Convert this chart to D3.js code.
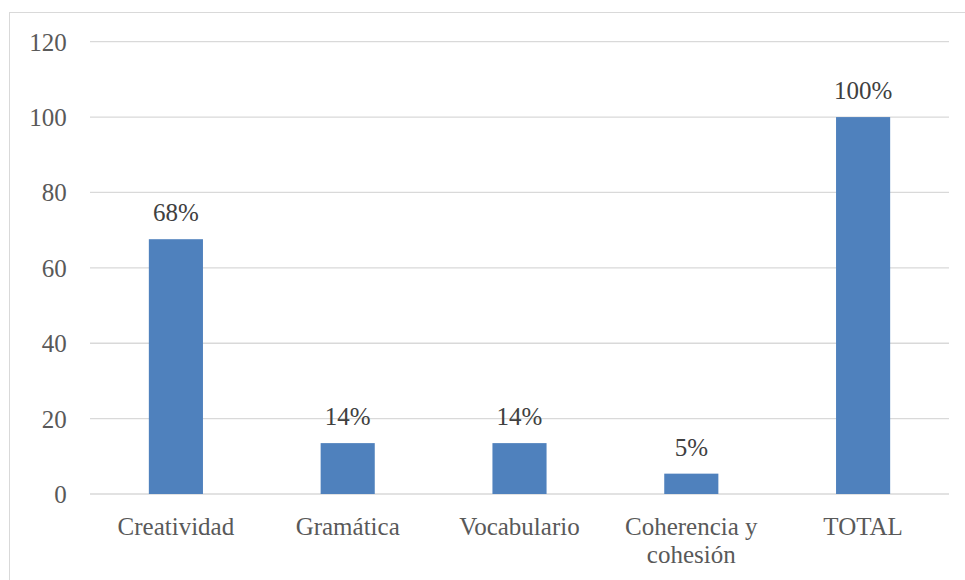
<!DOCTYPE html>
<html>
<head>
<meta charset="utf-8">
<script src="https://cdn.jsdelivr.net/npm/d3@7"></script>
<style>
  html, body { margin: 0; padding: 0; background: #fff; }
  svg { display: block; }
</style>
</head>
<body>
<svg id="chart" width="965" height="580" font-family="Liberation Serif" font-size="25"></svg>
<script>
const categories = ["Creatividad", "Gramática", "Vocabulario", "Coherencia y cohesión", "TOTAL"];
const categoryLines = [["Creatividad"], ["Gramática"], ["Vocabulario"], ["Coherencia y", "cohesión"], ["TOTAL"]];
const values = [67.6, 13.5, 13.5, 5.4, 100];
const valueLabels = ["68%", "14%", "14%", "5%", "100%"];
const yTicks = [0, 20, 40, 60, 80, 100, 120];

const svg = d3.select("#chart");
const W = 965, H = 580;
const plot = { left: 90, right: 949, top: 41.7, bottom: 494 };
const textColor = "#595959";

function serif(t) {
  return t.attr("font-family", "Liberation Serif").attr("font-size", 25);
}

// outer border (cut off at right/bottom like reference)
svg.append("rect")
  .attr("x", 9.5).attr("y", 12.5)
  .attr("width", W).attr("height", H)
  .attr("fill", "none").attr("stroke", "#d9d9d9").attr("stroke-width", 1);

const x = d3.scaleBand()
  .domain(categories)
  .range([plot.left, plot.right])
  .paddingInner(0.685)
  .paddingOuter(0.3425);

const y = d3.scaleLinear().domain([0, 120]).range([plot.bottom, plot.top]);

// gridlines
svg.append("g").selectAll("line")
  .data(yTicks)
  .join("line")
  .attr("x1", plot.left).attr("x2", plot.right)
  .attr("y1", d => y(d)).attr("y2", d => y(d))
  .attr("stroke", "#d9d9d9").attr("stroke-width", 1.3);

// y axis labels
const yAxis = d3.axisLeft(y).tickValues(yTicks).tickSize(0).tickPadding(0);
const gy = svg.append("g").attr("transform", `translate(66.7,0)`).call(yAxis);
serif(gy);
gy.select(".domain").remove();
serif(gy.selectAll("text"))
  .attr("fill", textColor).attr("dy", "0.34em");

// bars
svg.append("g").selectAll("rect")
  .data(values)
  .join("rect")
  .attr("x", (d, i) => x(categories[i]))
  .attr("width", x.bandwidth())
  .attr("y", d => y(d))
  .attr("height", d => y(0) - y(d))
  .attr("fill", "#4f81bd");

// value labels
serif(svg.append("g").selectAll("text")
  .data(values)
  .join("text"))
  .attr("x", (d, i) => x(categories[i]) + x.bandwidth() / 2)
  .attr("y", d => y(d) - 18)
  .attr("text-anchor", "middle")
  .attr("fill", "#404040")
  .text((d, i) => valueLabels[i]);

// x axis labels
const gx = svg.append("g");
categories.forEach((c, i) => {
  categoryLines[i].forEach((line, j) => {
    serif(gx.append("text"))
      .attr("x", x(c) + x.bandwidth() / 2)
      .attr("y", 535 + j * 28)
      .attr("text-anchor", "middle")
      .attr("fill", textColor)
      .text(line);
  });
});
</script>
</body>
</html>
